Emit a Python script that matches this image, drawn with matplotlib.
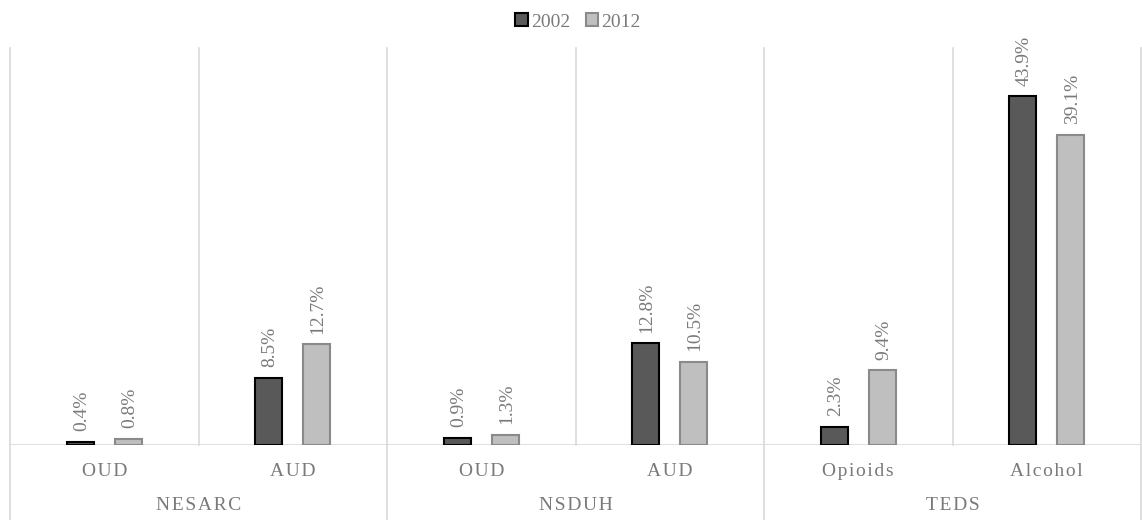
import matplotlib
matplotlib.use("Agg")
import matplotlib.pyplot as plt
from matplotlib.lines import Line2D
from matplotlib.transforms import blended_transform_factory
import numpy as np

# Substance use disorder prevalence by survey, 2002 vs 2012
groups = ["NESARC", "NSDUH", "TEDS"]
categories = ["OUD", "AUD", "OUD", "AUD", "Opioids", "Alcohol"]
years = ["2002", "2012"]
values_2002 = [0.4, 8.5, 0.9, 12.8, 2.3, 43.9]
values_2012 = [0.8, 12.7, 1.3, 10.5, 9.4, 39.1]

plt.rcParams["font.family"] = ["Liberation Serif", "DejaVu Serif"]
TEXT = "#7a7a7a"
GRID = "#d9d9d9"


def spaced(s):
    # loose tracking for axis labels
    return "\u200a".join(s)


fig = plt.figure(figsize=(11.42, 5.2), dpi=100)
ax = fig.add_axes([10 / 1142, 75 / 520, 1131 / 1142, 397 / 520])

x = np.arange(len(categories))
width = 0.145
offset = 0.127
bars_a = ax.bar(x - offset, values_2002, width, color="#595959",
                edgecolor="#000000", linewidth=1.5, label=years[0], zorder=3)
bars_b = ax.bar(x + offset, values_2012, width, color="#bfbfbf",
                edgecolor="#8a8a8a", linewidth=1.5, label=years[1], zorder=3)

for bars, vals in ((bars_a, values_2002), (bars_b, values_2012)):
    for b, v in zip(bars, vals):
        ax.annotate(f"{v:.1f}%", (b.get_x() + b.get_width() / 2, v),
                    xytext=(1, 7.5), textcoords="offset points",
                    rotation=90, ha="center", va="bottom",
                    fontsize=14, color=TEXT)

ax.set_xlim(-0.5, len(categories) - 0.5)
ax.set_ylim(0, 50)
ax.set_xticks([])
ax.set_yticks([])
for s in ax.spines.values():
    s.set_visible(False)

# baseline
ax.axhline(0, color=GRID, linewidth=1.2, zorder=2)

# separators: category lines stop at baseline, group lines run down past labels
trans = blended_transform_factory(ax.transData, ax.transAxes)
for i in range(len(categories) + 1):
    xpos = i - 0.5
    ybottom = -0.19 if i % 2 == 0 else 0
    ax.add_line(Line2D([xpos, xpos], [ybottom, 1], transform=trans,
                       color=GRID, linewidth=1.2, clip_on=False))

for i, c in enumerate(categories):
    ax.text(i, -0.067, spaced(c), transform=trans, ha="center", va="center",
            fontsize=14, color=TEXT)
for j, g in enumerate(groups):
    ax.text(2 * j + 0.5, -0.152, spaced(g), transform=trans, ha="center",
            va="center", fontsize=14, color=TEXT)

leg = fig.legend(loc="upper center", bbox_to_anchor=(0.506, 1.008), ncol=2,
                 frameon=False, fontsize=14, handlelength=0.65,
                 handleheight=0.65, handletextpad=0.15, columnspacing=0.8)
for t in leg.get_texts():
    t.set_color(TEXT)

fig.savefig("out.png", dpi=100)
